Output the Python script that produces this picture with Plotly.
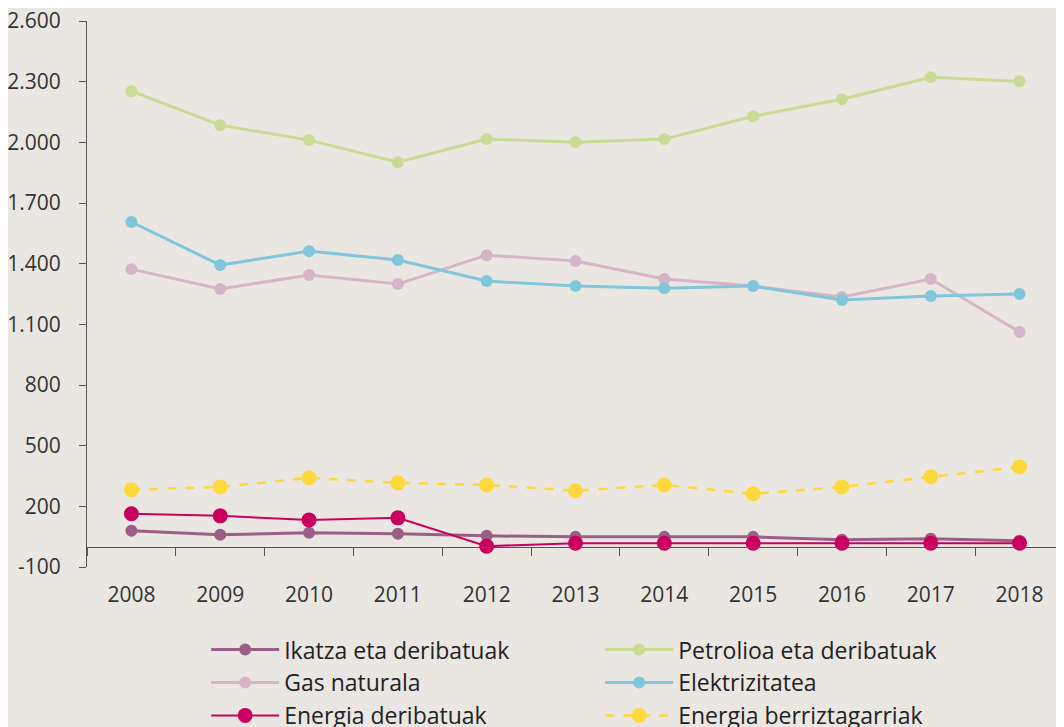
"""Energy consumption by source, 2008-2018 (line chart)."""

import plotly.graph_objects as go

years = ["2008", "2009", "2010", "2011", "2012", "2013", "2014", "2015", "2016", "2017", "2018"]

ikatza = [79, 59, 69, 64, 54, 49, 49, 49, 35, 40, 30]
petrolioa = [2253, 2085, 2011, 1902, 2016, 2001, 2016, 2129, 2213, 2322, 2302]
gas_naturala = [1373, 1275, 1344, 1299, 1442, 1413, 1324, 1289, 1235, 1324, 1062]
elektrizitatea = [1606, 1393, 1462, 1418, 1314, 1289, 1279, 1289, 1220, 1240, 1250]
energia_deribatuak = [163, 153, 133, 143, 3, 18, 18, 18, 18, 18, 18]
berriztagarriak = [282, 296, 341, 316, 306, 277, 306, 262, 296, 346, 395]

y_ticks = [-100, 200, 500, 800, 1100, 1400, 1700, 2000, 2300, 2600]
y_ticktext = ["{:,}".format(v).replace(",", ".") for v in y_ticks]

series = [
    ("Ikatza eta deribatuak", ikatza, "#9B5E86", "solid", 3, 12),
    ("Petrolioa eta deribatuak", petrolioa, "#C9DB95", "solid", 3, 12),
    ("Gas naturala", gas_naturala, "#D7B5C9", "solid", 3, 12),
    ("Elektrizitatea", elektrizitatea, "#80C7DB", "solid", 3, 12),
    ("Energia deribatuak", energia_deribatuak, "#C9005F", "solid", 2, 15),
    ("Energia berriztagarriak", berriztagarriak, "#FDD93D", "dash", 2.5, 15),
]

fig = go.Figure()
for name, vals, color, dash, width, size in series:
    fig.add_trace(go.Scatter(
        x=years,
        y=vals,
        name=name,
        mode="lines+markers",
        line=dict(color=color, width=width, dash=dash),
        marker=dict(color=color, size=size),
    ))

bg = "#EAE7E2"
# page body adds 8px, so the figure is 8px smaller than the window
fig.update_layout(
    width=1056,
    height=719,
    paper_bgcolor=bg,
    plot_bgcolor=bg,
    font=dict(family="Open Sans, sans-serif", size=21, color="#333333"),
    margin=dict(l=79, r=0, t=13, b=160, autoexpand=False),
    showlegend=True,
    legend=dict(
        orientation="h",
        x=0.122,
        xanchor="left",
        y=-0.112,
        yanchor="top",
        entrywidth=311,
        itemwidth=68,
        font=dict(size=23, color="#222222"),
        bgcolor="rgba(0,0,0,0)",
    ),
    xaxis=dict(
        type="category",
        anchor="free",
        position=100 / 2700,
        showline=True,
        linecolor="#555555",
        linewidth=1,
        ticks="outside",
        ticklen=8,
        tickcolor="#555555",
        tickson="boundaries",
        ticklabelstandoff=29,
        showgrid=False,
        zeroline=False,
        range=[-0.5, 10.5],
        automargin=False,
    ),
    yaxis=dict(
        range=[-100, 2600],
        tickvals=y_ticks,
        ticktext=y_ticktext,
        ticklabeloverflow="allow",
        showline=True,
        linecolor="#555555",
        linewidth=1,
        ticks="outside",
        ticklen=7,
        tickcolor="#555555",
        showgrid=False,
        zeroline=False,
        ticklabelstandoff=14,
        automargin=False,
    ),
)

fig.write_html("out.html")
